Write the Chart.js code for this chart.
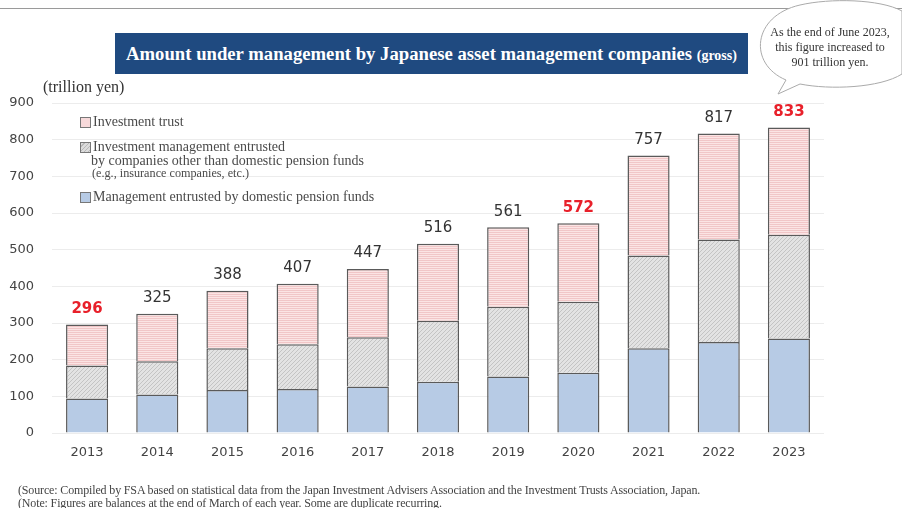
<!DOCTYPE html>
<html>
<head>
<meta charset="utf-8">
<script src="https://cdn.jsdelivr.net/npm/chart.js@4/dist/chart.umd.min.js"></script>
<style>
  body { margin: 0; background: #fff; }
  #wrap { position: relative; width: 902px; height: 508px; overflow: hidden; font-family: "Liberation Serif", serif; }
  #wrap canvas { position: absolute; left: 0; top: 0; }
  .abs { position: absolute; white-space: nowrap; }
  .topline { left: 0; top: 8px; width: 902px; height: 1px; background: #9a9a9a; }
  .title { left: 115px; top: 33px; width: 633px; height: 41px; line-height: 41px; background: #1f4a80;
    color: #fff; font-weight: bold; font-size: 18.7px; text-align: center; }
  .title small { font-size: 14px; }
  .unit { left: 43px; top: 78px; font-size: 16px; color: #333; }
  .leg { font-size: 14px; color: #4a4a4a; line-height: 14px; }
  .sw { position: absolute; width: 9px; height: 9px; border: 1px solid #777; }
  .note { left: 18px; font-size: 12px; line-height: 14px; color: #444; letter-spacing: -0.15px; }
  .bub { left: 762px; width: 136px; text-align: center; font-size: 12px; color: #333; line-height: 15px; }
</style>
</head>
<body>
<div id="wrap">
  <canvas id="c" width="902" height="508"></canvas>
  <div class="abs topline"></div>
  <svg class="abs" style="left:0;top:0" width="902" height="110">
    <path d="M 786 80 C 748 64, 752 16, 800 5 C 830 -2, 880 -1, 902 11 L 902 74 C 880 88, 830 90, 800 84 L 778 94 Z"
      fill="#fff" stroke="#aaa" stroke-width="1"/>
  </svg>
  <div class="abs bub" style="top:25px">As the end of June 2023,<br>this figure increased to<br>901 trillion yen.</div>
  <div class="abs title">Amount under management by Japanese asset management companies <small>(gross)</small></div>
  <div class="abs unit">(trillion yen)</div>

  <div class="sw" style="left:80px;top:117px;background:#f7d9da"></div>
  <div class="abs leg" style="left:93px;top:115px">Investment trust</div>
  <div class="sw" style="left:80px;top:142px;background:repeating-linear-gradient(135deg,#dcdcdc 0 2px,#b8b8b8 2px 3px)"></div>
  <div class="abs leg" style="left:93px;top:140px">Investment management entrusted</div>
  <div class="abs leg" style="left:91px;top:154px">by companies other than domestic pension funds</div>
  <div class="abs leg" style="left:92px;top:166px;font-size:12.2px">(e.g., insurance companies, etc.)</div>
  <div class="sw" style="left:80px;top:192px;background:#b7cbe5"></div>
  <div class="abs leg" style="left:93px;top:190px">Management entrusted by domestic pension funds</div>

  <div class="abs note" style="top:483px">(Source: Compiled by FSA based on statistical data from the Japan Investment Advisers Association and the Investment Trusts Association, Japan.</div>
  <div class="abs note" style="top:496px">(Note: Figures are balances at the end of March of each year. Some are duplicate recurring.</div>
</div>
<script>
const years = ["2013", "2014", "2015", "2016", "2017", "2018", "2019", "2020", "2021", "2022", "2023"]
const pensionFunds = [94, 105, 117, 120, 127, 140, 154, 164, 231, 248, 258]
const otherEntrusted = [90, 91, 114, 122, 134, 166, 190, 194, 253, 280, 283]
const investmentTrust = [112, 129, 157, 165, 186, 210, 217, 214, 273, 289, 292]
const totals = [296, 325, 388, 407, 447, 516, 561, 572, 757, 817, 833]
const redYears = ["2013", "2020", "2023"]
const yTicks = [0, 100, 200, 300, 400, 500, 600, 700, 800, 900]

function makePattern(bg, fg, kind) {
  const p = document.createElement("canvas")
  p.width = 4; p.height = 4
  const g = p.getContext("2d")
  g.fillStyle = bg
  g.fillRect(0, 0, 4, 4)
  g.fillStyle = fg
  if (kind === "h") {
    g.fillRect(0, 0, 4, 1)
    g.fillRect(0, 2, 4, 1)
  } else {
    for (let i = 0; i < 4; i++) g.fillRect(3 - i, i, 1, 1)
  }
  return document.getElementById("c").getContext("2d").createPattern(p, "repeat")
}

const pinkFill = makePattern("#fbe4e4", "#f1c6c7", "h")
const grayFill = makePattern("#e3e3e3", "#c4c4c4", "d")

// totals above each stack, red for the highlighted years
const totalsLabels = {
  id: "totalsLabels",
  afterDatasetsDraw(chart) {
    const ctx = chart.ctx
    const meta = chart.getDatasetMeta(2)
    ctx.save()
    ctx.textAlign = "center"
    ctx.textBaseline = "bottom"
    meta.data.forEach((bar, i) => {
      const red = redYears.includes(years[i])
      ctx.fillStyle = red ? "#e8202a" : "#333"
      ctx.font = (red ? "bold " : "") + "15px 'DejaVu Sans'"
      ctx.fillText(totals[i], bar.x, bar.y - 8)
    })
    ctx.restore()
  }
}

new Chart(document.getElementById("c"), {
  type: "bar",
  data: {
    labels: years,
    datasets: [
      { label: "Management entrusted by domestic pension funds", data: pensionFunds, backgroundColor: "#b7cbe5" },
      { label: "Investment management entrusted by companies other than domestic pension funds", data: otherEntrusted, backgroundColor: grayFill },
      { label: "Investment trust", data: investmentTrust, backgroundColor: pinkFill },
    ].map(d => Object.assign(d, { borderColor: "#5a5a5a", borderWidth: 1.5, barPercentage: 0.6, categoryPercentage: 1 })),
  },
  options: {
    responsive: false,
    animation: false,
    layout: { padding: { top: 103, right: 78, left: 0, bottom: 0 } },
    plugins: { legend: { display: false }, tooltip: { enabled: false } },
    scales: {
      x: {
        stacked: true,
        grid: { display: false },
        border: { display: false },
        ticks: { color: "#444", font: { family: "DejaVu Sans", size: 13 }, padding: 4 },
        afterFit: (s) => { s.height = 75 },
      },
      y: {
        stacked: true,
        min: 0,
        max: 900,
        afterBuildTicks: (s) => { s.ticks = yTicks.map(v => ({ value: v })) },
        grid: { color: "#ececec", drawTicks: false },
        border: { display: false },
        ticks: { color: "#444", font: { family: "DejaVu Sans", size: 13 }, padding: 18 },
        afterFit: (s) => { s.width = 52 },
      },
    },
  },
  plugins: [totalsLabels],
})
</script>
</body>
</html>
